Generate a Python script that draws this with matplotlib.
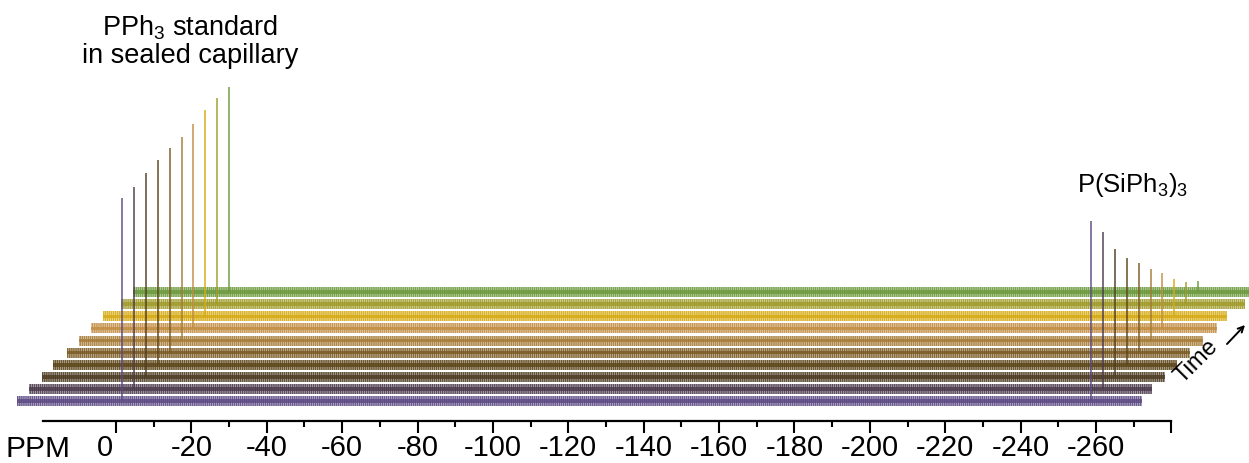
import matplotlib
matplotlib.use("Agg")
import matplotlib.pyplot as plt
from matplotlib.transforms import ScaledTranslation

plt.rcParams["font.family"] = ["Liberation Sans", "DejaVu Sans"]
plt.rcParams["mathtext.fontset"] = "custom"
plt.rcParams["mathtext.rm"] = "Liberation Sans"
plt.rcParams["mathtext.default"] = "regular"
plt.rcParams["hatch.linewidth"] = 1.1

# --- data ---
# spectra from front (oldest) to back (latest)
trace_colors = [
    "#5b4983", "#4b3a4c", "#4d3b22", "#5b4418", "#7a5a22",
    "#a57a36", "#c28c42", "#d6aa12", "#a09b2a", "#6b993b",
]
pph3_ppm = -1.6      # PPh3 standard signal, ppm in each spectrum
psi_ppm = -258.7     # P(SiPh3)3 signal
pph3_height = [203, 202, 204, 205, 205, 204, 204, 206, 206, 205]
psi_height = [180, 157, 128, 107, 90, 72, 55, 37, 22, 11]
trace_start = [26.3, 26.2, 25.9, 26.2, 25.6, 25.6, 25.6, 25.6, 23.9, 23.9]
trace_end = [-272.2, -271.7, -272.0, -272.0, -272.3, -272.6, -273.2, -272.7, -274.3, -275.0]
noise_amp = 5.0      # half width of the baseline noise band

major_ticks = [0, -20, -40, -60, -80, -100, -120, -140, -160, -180, -200, -220, -240, -260, -280]
major_labels = ["0", "-20", "-40", "-60", "-80", "-100", "-120", "-140", "-160",
                "-180", "-200", "-220", "-240", "-260", ""]
minor_ticks = [-10, -30, -50, -70, -90, -110, -130, -150, -170, -190, -210, -230, -250, -270]

# waterfall offsets
x_step = 3.157       # ppm per spectrum
y_step = 12.1        # intensity per spectrum
y_front = 62

fig = plt.figure(figsize=(12.49, 4.63), dpi=100)
ax = fig.add_axes([0, 0, 1, 1])

for i in range(len(trace_colors) - 1, -1, -1):
    color = trace_colors[i]
    dx = -x_step * i
    base = y_front + y_step * i
    z = 30 - 2 * i
    xs = [trace_start[i] + dx, trace_end[i] + dx]
    # noise band: light fill + fine vertical texture + darker core
    ax.fill_between(xs, base - noise_amp, base + noise_amp, facecolor=color,
                    alpha=0.25, lw=0, zorder=z)
    ax.fill_between(xs, base - noise_amp, base + noise_amp, facecolor="none",
                    edgecolor=color, hatch="||||||||", lw=0, alpha=0.85, zorder=z)
    ax.fill_between(xs, base - 1.8, base + 1.8, color=color, alpha=0.8, lw=0, zorder=z)
    ax.vlines([pph3_ppm + dx, psi_ppm + dx], base,
              [base + pph3_height[i], base + psi_height[i]],
              color=color, lw=1.3, alpha=0.8, zorder=z + 1)

ax.set_xlim(30.78, -300.6)
ax.set_ylim(0, 463)

for side in ["top", "left", "right"]:
    ax.spines[side].set_visible(False)
ax.spines["bottom"].set_position(("data", 42))
ax.spines["bottom"].set_bounds(19.4, -280)
ax.spines["bottom"].set_linewidth(1.6)
ax.set_yticks([])
ax.set_xticks(major_ticks)
ax.set_xticklabels(major_labels)
ax.set_xticks(minor_ticks, minor=True)
ax.tick_params(axis="x", which="major", length=8.6, width=1.5, labelsize=21, pad=1)
ax.tick_params(axis="x", which="minor", length=4.3, width=1.5)
lbl0 = ax.get_xticklabels()[0]
lbl0.set_transform(lbl0.get_transform() + ScaledTranslation(-0.11, 0, fig.dpi_scale_trans))

fig.text(5 / 1249, 1 - 457 / 463, "PPM", fontsize=21.5, ha="left", va="baseline")

fig.text(190 / 1249, 1 - 35 / 463, "PPh$_3$ standard", fontsize=19.5,
         ha="center", va="baseline")
fig.text(190 / 1249, 1 - 63 / 463, "in sealed capillary", fontsize=19.5,
         ha="center", va="baseline")
fig.text(1133 / 1249, 1 - 192 / 463, "P(SiPh$_3$)$_3$", fontsize=18.5,
         ha="center", va="baseline")
fig.text(1197 / 1249, 1 - 362 / 463, "Time", fontsize=17, rotation=45,
         ha="center", va="center", rotation_mode="anchor")
ax.annotate("", xy=(1245, 463 - 325), xytext=(1227, 463 - 344),
            xycoords="figure pixels", textcoords="figure pixels",
            arrowprops=dict(arrowstyle="->", lw=1.4, color="black",
                            shrinkA=0, shrinkB=0))

fig.savefig("out.png", dpi=100, facecolor="white")
